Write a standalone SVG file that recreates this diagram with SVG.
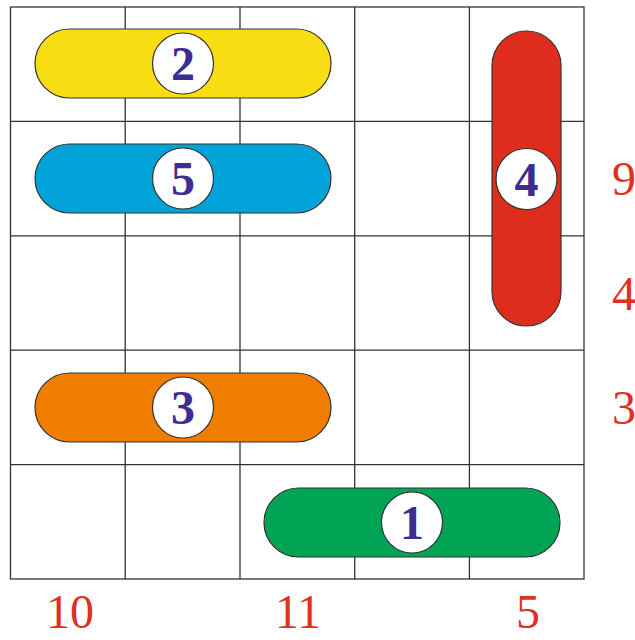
<svg xmlns="http://www.w3.org/2000/svg" width="635" height="640" viewBox="0 0 635 640">
<style>
.grid{stroke:#333;stroke-width:1.3;fill:none}
.pill{stroke:#333;stroke-width:1.2}
.disc{fill:#fff;stroke:#333;stroke-width:1.2}
.num{font-family:"Liberation Serif",serif;font-weight:bold;font-size:48px;fill:#3a2d94;text-anchor:middle}
.lbl{font-family:"Liberation Serif",serif;font-size:48px;fill:#e0301e}
</style>
<rect width="635" height="640" fill="#fff"/>
<g id="grid" class="grid">
<rect x="10.5" y="7" width="573.5" height="572"/>
<line x1="125.2" y1="7" x2="125.2" y2="579"/>
<line x1="240" y1="7" x2="240" y2="579"/>
<line x1="354.7" y1="7" x2="354.7" y2="579"/>
<line x1="469.4" y1="7" x2="469.4" y2="579"/>
<line x1="10.5" y1="121.4" x2="584" y2="121.4"/>
<line x1="10.5" y1="235.8" x2="584" y2="235.8"/>
<line x1="10.5" y1="350.2" x2="584" y2="350.2"/>
<line x1="10.5" y1="464.6" x2="584" y2="464.6"/>
</g>
<g id="connectors"></g>
<g id="car2">
<rect class="pill" x="35" y="29" width="296" height="69" rx="34.5" fill="#f8dc14"/>
<circle class="disc" cx="183" cy="63.5" r="30.5"/>
<text class="num" x="183" y="80">2</text>
</g>
<g id="car5">
<rect class="pill" x="35" y="144" width="296" height="69" rx="34.5" fill="#00a2d8"/>
<circle class="disc" cx="183" cy="178.5" r="30.5"/>
<text class="num" x="183" y="195">5</text>
</g>
<g id="car3">
<rect class="pill" x="35" y="373" width="296" height="69" rx="34.5" fill="#f07d00"/>
<circle class="disc" cx="183" cy="407.5" r="30.5"/>
<text class="num" x="183" y="424">3</text>
</g>
<g id="car1">
<rect class="pill" x="264" y="488" width="296" height="69" rx="34.5" fill="#00a454"/>
<circle class="disc" cx="412" cy="522.5" r="30.5"/>
<text class="num" x="412" y="539">1</text>
</g>
<g id="car4">
<rect class="pill" x="492" y="31" width="69" height="295" rx="34.5" fill="#de2d1c"/>
<circle class="disc" cx="526.5" cy="179" r="30.5"/>
<text class="num" x="526.5" y="195.5">4</text>
</g>
<g id="labels">
<text class="lbl" x="612" y="195">9</text>
<text class="lbl" x="612" y="310">4</text>
<text class="lbl" x="612" y="424">3</text>
<text class="lbl" x="70" y="628" text-anchor="middle">10</text>
<text class="lbl" x="298" y="628" text-anchor="middle">11</text>
<text class="lbl" x="528" y="628" text-anchor="middle">5</text>
</g>
</svg>
